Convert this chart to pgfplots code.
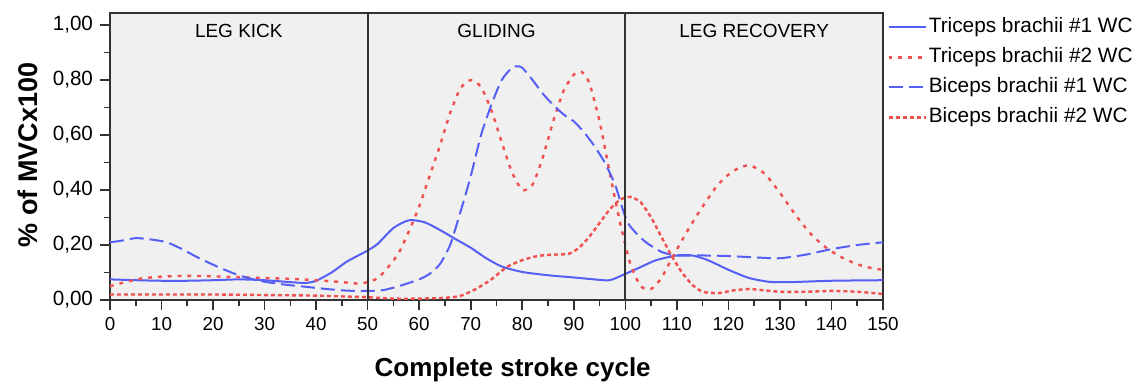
\documentclass[border=0pt]{standalone}
\usepackage{pgfplots}
\pgfplotsset{compat=1.18}
\usepackage{fontspec}
\setmainfont{Liberation Sans}
\definecolor{cblue}{RGB}{85,95,245}
\definecolor{cred}{RGB}{240,80,80}
\definecolor{bggray}{RGB}{240,240,240}
\definecolor{axgray}{RGB}{50,50,50}
\begin{document}
\begin{tikzpicture}
\path[use as bounding box] (-55pt,-42.5pt) rectangle (514.5pt,150pt);
\begin{axis}[
  at={(0,0)}, anchor=south west,
  scale only axis, width=386.5pt, height=143.5pt,
  xmin=0, xmax=150, ymin=0, ymax=1.044,
  xtick={0,10,20,30,40,50,60,70,80,90,100,110,120,130,140,150},
  minor x tick num=1,
  ytick={0,0.2,0.4,0.6,0.8,1},
  minor y tick num=1,
  tick align=outside, tick pos=left,
  axis line style={axgray, line width=1pt},
  major tick style={axgray, line width=0.8pt},
  minor tick style={axgray, line width=0.8pt},
  major tick length=5pt, minor tick length=3pt,
  axis background/.style={fill=bggray},
  /pgf/number format/assume math mode=true,
  yticklabel style={/pgf/number format/.cd, fixed, fixed zerofill, precision=2, use comma, /tikz/.cd, font=\fontsize{10.3}{12}\selectfont},
  xticklabel style={font=\fontsize{9.4}{11}\selectfont},
  xlabel={Complete stroke cycle},
  ylabel={\% of MVCx100},
  xlabel style={font=\fontsize{13}{15}\selectfont\bfseries, at={(axis description cs:0.521,-0.244)}, anchor=center},
  ylabel style={font=\fontsize{13.5}{15}\selectfont\bfseries, at={(axis description cs:-0.106,0.505)}, anchor=center},
  legend style={at={(1,1)}, anchor=north west, xshift=2pt, yshift=-1pt, draw=none, fill=none,
    font=\fontsize{10.4}{12}\selectfont, inner sep=0pt, row sep=3pt,
    nodes={inner sep=1pt, text height=7.5pt, text depth=2.5pt}},
  legend cell align=left,
  legend image code/.code={\draw[#1] (0pt,0pt) -- (18.5pt,0pt);},
  clip=false,
]
% Triceps brachii #1 (solid blue)
\addplot[cblue, line width=1pt, smooth, tension=0.4] coordinates {
(0,0.075) (5,0.072) (10,0.07) (15,0.07) (20,0.072) (25,0.075) (30,0.072) (35,0.065) (38,0.062)
(40,0.07) (43,0.10) (46,0.14) (50,0.18) (52,0.205) (55,0.262) (58,0.29) (61,0.283) (64,0.255)
(67,0.222) (70,0.19) (73,0.152) (76,0.122) (80,0.102) (85,0.09) (90,0.082) (94,0.075) (97,0.072)
(100,0.095) (103,0.12) (106,0.145) (110,0.162) (113,0.162) (116,0.145) (120,0.11) (124,0.08)
(128,0.066) (132,0.065) (140,0.07) (150,0.072)};
\addlegendentry{Triceps brachii \#1 WC}
% Triceps brachii #2 (sparse red dots)
\addplot[cred, line width=1.2pt, dash pattern=on 1.9pt off 3pt, smooth, tension=0.4] coordinates {
(0,0.05) (3,0.065) (6,0.078) (10,0.085) (15,0.088) (20,0.086) (25,0.083) (30,0.08) (35,0.077)
(40,0.072) (45,0.065) (48,0.06) (50,0.065) (52,0.08) (54,0.12) (56,0.17) (58,0.25) (60,0.34)
(62,0.45) (64,0.56) (66,0.68) (68,0.77) (70,0.80) (72,0.775) (74,0.69) (76,0.575) (78,0.465)
(80,0.40) (82,0.42) (84,0.52) (86,0.65) (88,0.76) (90,0.82) (91.5,0.83) (93,0.79) (95,0.65)
(97,0.46) (99,0.28) (101,0.13) (103,0.05) (105,0.04) (107,0.08) (109,0.15) (112,0.25)
(115,0.34) (118,0.42) (121,0.47) (124,0.49) (127,0.46) (130,0.39) (133,0.31) (136,0.24)
(139,0.19) (142,0.155) (145,0.13) (148,0.115) (150,0.11)};
\addlegendentry{Triceps brachii \#2 WC}
% Biceps brachii #1 (long dashed blue)
\addplot[cblue, line width=1pt, dash pattern=on 7pt off 3pt, smooth, tension=0.4] coordinates {
(0,0.21) (2,0.215) (5,0.225) (8,0.22) (11,0.21) (14,0.185) (17,0.155) (21,0.12) (25,0.09)
(29,0.07) (33,0.058) (38,0.048) (42,0.04) (46,0.034) (50,0.033) (53,0.036) (56,0.05) (60,0.075)
(62,0.095) (64,0.13) (66,0.2) (68,0.32) (70,0.45) (72,0.6) (74,0.71) (76,0.8) (78,0.845)
(79,0.85) (80,0.845) (82,0.8) (84,0.75) (86,0.71) (88,0.675) (90,0.65) (92,0.61) (94,0.56)
(96,0.5) (98,0.42) (99.5,0.33) (100.5,0.28) (102,0.245) (104,0.21) (107,0.175) (110,0.162)
(115,0.162) (120,0.16) (125,0.155) (130,0.152) (135,0.165) (140,0.185) (145,0.2) (150,0.21)};
\addlegendentry{Biceps brachii \#1 WC}
% Biceps brachii #2 (dense red dots)
\addplot[cred, line width=1.2pt, dash pattern=on 2pt off 1.5pt, smooth, tension=0.4] coordinates {
(0,0.02) (5,0.02) (10,0.02) (20,0.02) (30,0.018) (40,0.016) (45,0.013) (50,0.01) (55,0.005)
(60,0.005) (65,0.008) (68,0.015) (71,0.04) (74,0.075) (77,0.12) (80,0.145) (83,0.16) (86,0.165)
(89,0.168) (91,0.19) (93,0.23) (95,0.28) (97,0.33) (99,0.365) (101,0.375) (103,0.355) (105,0.3)
(107,0.23) (109,0.16) (111,0.1) (113,0.055) (115,0.03) (118,0.025) (121,0.035) (124,0.04)
(127,0.035) (130,0.03) (135,0.03) (140,0.033) (145,0.03) (150,0.022)};
\addlegendentry{Biceps brachii \#2 WC}
% phase separators
\addplot[forget plot, axgray, line width=1.1pt] coordinates {(50,0) (50,1.044)};
\addplot[forget plot, axgray, line width=1.1pt] coordinates {(100,0) (100,1.044)};
\node[font=\fontsize{9.5}{11}\selectfont] at (axis cs:25,0.978) {LEG KICK};
\node[font=\fontsize{9.5}{11}\selectfont] at (axis cs:75,0.978) {GLIDING};
\node[font=\fontsize{9.5}{11}\selectfont] at (axis cs:125,0.978) {LEG RECOVERY};
\end{axis}
\end{tikzpicture}
\end{document}
